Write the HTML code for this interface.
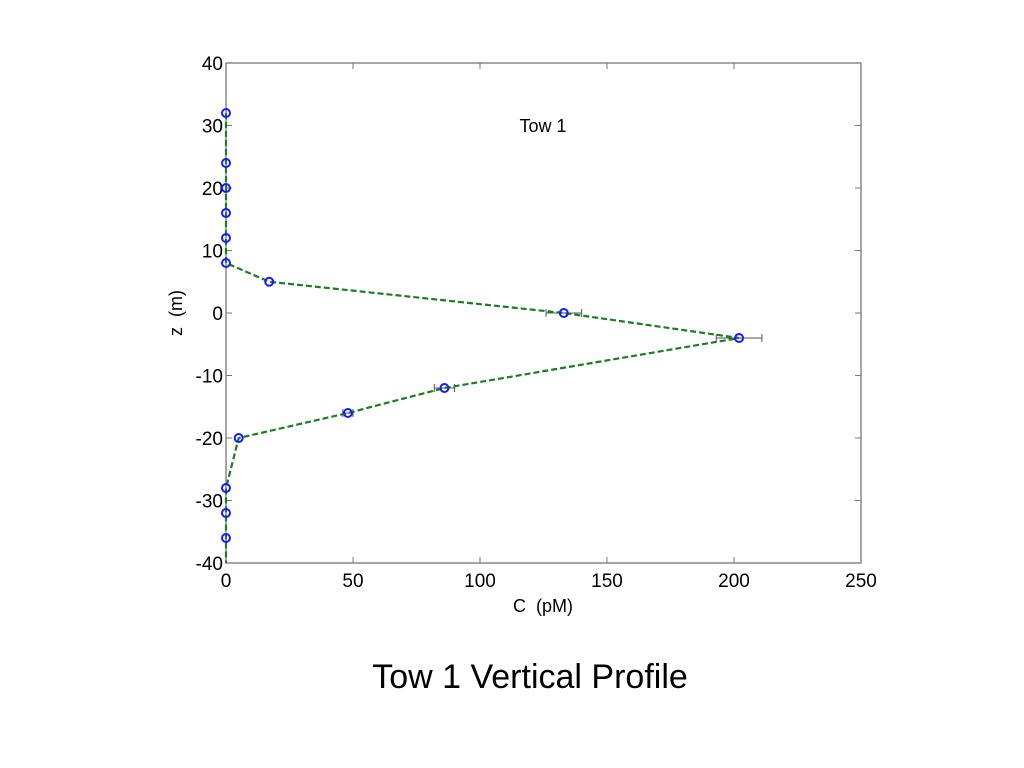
<!DOCTYPE html>
<html><head><meta charset="utf-8"><style>
body{margin:0;background:#fff;width:1024px;height:768px;overflow:hidden;font-family:"Liberation Sans",sans-serif}
</style></head><body>
<svg id="chart" width="1024" height="768" style="position:absolute;left:0;top:0">
<g id="axes"></g>
<g id="series"></g>
<text x="543" y="132" font-size="18" text-anchor="middle">Tow 1</text>
<text x="543" y="612" font-size="18" text-anchor="middle" xml:space="preserve">C  (pM)</text>
<text x="182" y="313" font-size="18" text-anchor="middle" xml:space="preserve" transform="rotate(-90 182 313)">z  (m)</text>
<text x="530" y="688" font-size="34" text-anchor="middle">Tow 1 Vertical Profile</text>
</svg>
<script>
const depths=[32,24,20,16,12,8,5,0,-4,-12,-16,-20,-28,-32,-36];
const conc=[0,0,0,0,0,0,17,133,202,86,48,5,0,0,0];
const errs=[0,0,0,0,0,0,0,7,9,4,2,0,0,0,0];
const xTicks=[0,50,100,150,200,250];
const yTicks=[40,30,20,10,0,-10,-20,-30,-40];
const L=226,R=861,T=63,B=563;
const xs=v=>L+(v-0)/250*(R-L);
const ys=v=>T+(40-v)/80*(B-T);
const NS='http://www.w3.org/2000/svg';
function mk(tag,attrs,parent){const e=document.createElementNS(NS,tag);for(const k in attrs)e.setAttribute(k,attrs[k]);parent.appendChild(e);return e;}
const ax=document.getElementById('axes'),se=document.getElementById('series');
const box=mk('rect',{x:L,y:T,width:R-L,height:B-T,fill:'none',stroke:'#777','stroke-width':1.3},ax);


xTicks.forEach(t=>{const x=xs(t);
 mk('line',{x1:x,y1:B,x2:x,y2:B-6,stroke:'#777'},ax);mk('line',{x1:x,y1:T,x2:x,y2:T+6,stroke:'#777'},ax);
 const tx=mk('text',{x:x,y:B+24,'font-size':19,'text-anchor':'middle'},ax);tx.textContent=t;
 
 });
yTicks.forEach(t=>{const y=ys(t);
 mk('line',{x1:L,y1:y,x2:L+6,y2:y,stroke:'#777'},ax);mk('line',{x1:R,y1:y,x2:R-6,y2:y,stroke:'#777'},ax);
 const tx=mk('text',{x:L-3,y:y+7,'font-size':19,'text-anchor':'end'},ax);tx.textContent=t;
 
 });
conc.forEach((c,i)=>{if(!errs[i])return;const y=ys(depths[i]),x1=xs(c-errs[i]),x2=xs(c+errs[i]);
 const g=mk('g',{stroke:'#555','stroke-width':1},se);
 
 
 mk('line',{x1:x1,y1:y,x2:x2,y2:y},g);mk('line',{x1:x1,y1:y-4,x2:x1,y2:y+4},g);mk('line',{x1:x2,y1:y-4,x2:x2,y2:y+4},g);});
let pts=conc.map((c,i)=>[xs(c),ys(depths[i])]).concat([[xs(0),ys(-40)]]);
const pl=mk('polyline',{points:pts.map(p=>p.join(',')).join(' '),fill:'none',stroke:'#1e7d1e','stroke-width':2.2,'stroke-dasharray':'6,3'},se);


conc.forEach((c,i)=>{const m=mk('circle',{cx:xs(c),cy:ys(depths[i]),r:4,fill:'none',stroke:'#1a1aff','stroke-width':2},se);
 
 });
</script>
</body></html>
